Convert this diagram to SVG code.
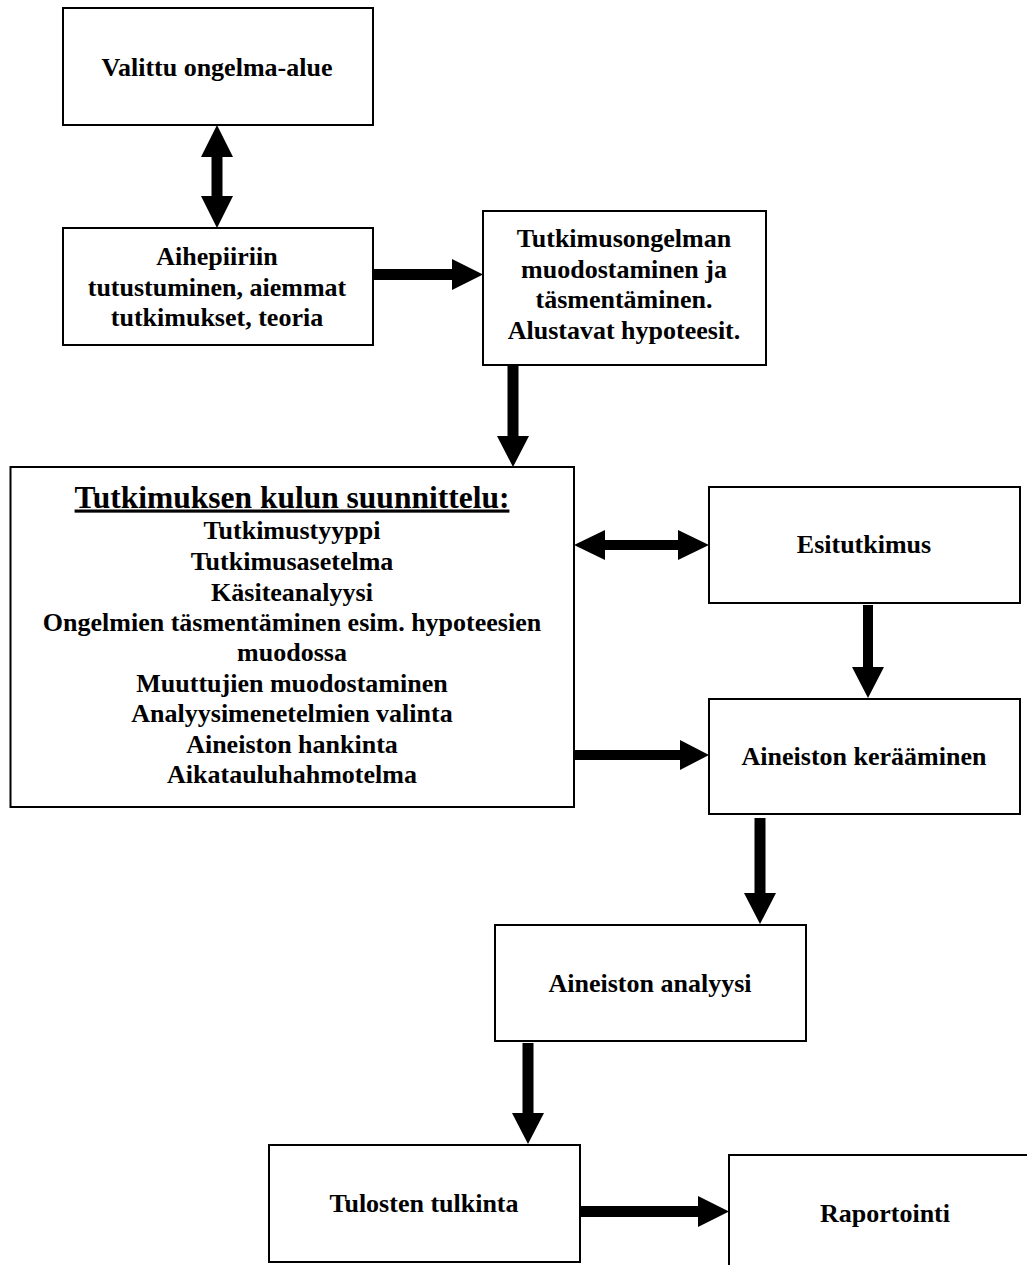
<svg xmlns="http://www.w3.org/2000/svg" width="1027" height="1265" viewBox="0 0 1027 1265">
<style>
.box{fill:#fff;stroke:#000;stroke-width:2}
.t{font-family:"Liberation Serif","Times New Roman",serif;font-weight:bold;font-size:26px;fill:#000;text-anchor:middle}
.title{font-size:31.5px;text-decoration:underline}
.arr{fill:#000;stroke:none}
</style>
<rect width="1027" height="1265" fill="#fff"/>
<g id="connectors">
<polygon class="arr" points="217,125 201,157 211.5,157 211.5,196 201,196 217,228 233,196 222.5,196 222.5,157 233,157"/>
<polygon class="arr" points="373,269 452,269 452,259 483,274.5 452,290 452,280 373,280"/>
<polygon class="arr" points="507.5,365 518.5,365 518.5,436 529,436 513,467 497,436 507.5,436"/>
<polygon class="arr" points="574,545 605,530 605,540 678,540 678,530 709,545 678,560 678,550 605,550 605,560"/>
<polygon class="arr" points="863,605 873,605 873,667 884,667 868,698 852,667 863,667"/>
<polygon class="arr" points="575,750 680,750 680,740 709,755 680,770 680,760 575,760"/>
<polygon class="arr" points="754.5,818 765.5,818 765.5,893 776,893 760,924 744,893 754.5,893"/>
<polygon class="arr" points="522.5,1043 533.5,1043 533.5,1113 544,1113 528,1144 512,1113 522.5,1113"/>
<polygon class="arr" points="580,1206 698,1206 698,1196 729,1211.5 698,1227 698,1217 580,1217"/>
</g>
<g id="n1">
<rect class="box" x="63" y="8" width="310" height="117"/>
<text class="t" x="217" y="76">Valittu ongelma-alue</text>
</g>
<g id="n2">
<rect class="box" x="63" y="228" width="310" height="117"/>
<text class="t" x="217" y="265">Aihepiiriin</text>
<text class="t" x="217" y="296">tutustuminen, aiemmat</text>
<text class="t" x="217" y="326">tutkimukset, teoria</text>
</g>
<g id="n3">
<rect class="box" x="483" y="211" width="283" height="154"/>
<text class="t" x="624" y="247">Tutkimusongelman</text>
<text class="t" x="624" y="277.5">muodostaminen ja</text>
<text class="t" x="624" y="308">täsmentäminen.</text>
<text class="t" x="624" y="339">Alustavat hypoteesit.</text>
</g>
<g id="n4">
<rect class="box" x="10.5" y="467" width="563.5" height="340"/>
<text class="t title" x="292" y="507.5">Tutkimuksen kulun suunnittelu:</text>
<text class="t" x="292" y="539">Tutkimustyyppi</text>
<text class="t" x="292" y="570">Tutkimusasetelma</text>
<text class="t" x="292" y="601">Käsiteanalyysi</text>
<text class="t" x="292" y="631">Ongelmien täsmentäminen esim. hypoteesien</text>
<text class="t" x="292" y="661">muodossa</text>
<text class="t" x="292" y="691.5">Muuttujien muodostaminen</text>
<text class="t" x="292" y="722">Analyysimenetelmien valinta</text>
<text class="t" x="292" y="753">Aineiston hankinta</text>
<text class="t" x="292" y="783">Aikatauluhahmotelma</text>
</g>
<g id="n5">
<rect class="box" x="709" y="487" width="311" height="116"/>
<text class="t" x="864" y="553">Esitutkimus</text>
</g>
<g id="n6">
<rect class="box" x="709" y="699" width="311" height="115"/>
<text class="t" x="864" y="765">Aineiston kerääminen</text>
</g>
<g id="n7">
<rect class="box" x="495" y="925" width="311" height="116"/>
<text class="t" x="650" y="992">Aineiston analyysi</text>
</g>
<g id="n8">
<rect class="box" x="269" y="1145" width="311" height="117"/>
<text class="t" x="424" y="1212">Tulosten tulkinta</text>
</g>
<g id="n9">
<rect class="box" x="729" y="1155" width="320" height="130"/>
<text class="t" x="885" y="1222">Raportointi</text>
</g>
</svg>
